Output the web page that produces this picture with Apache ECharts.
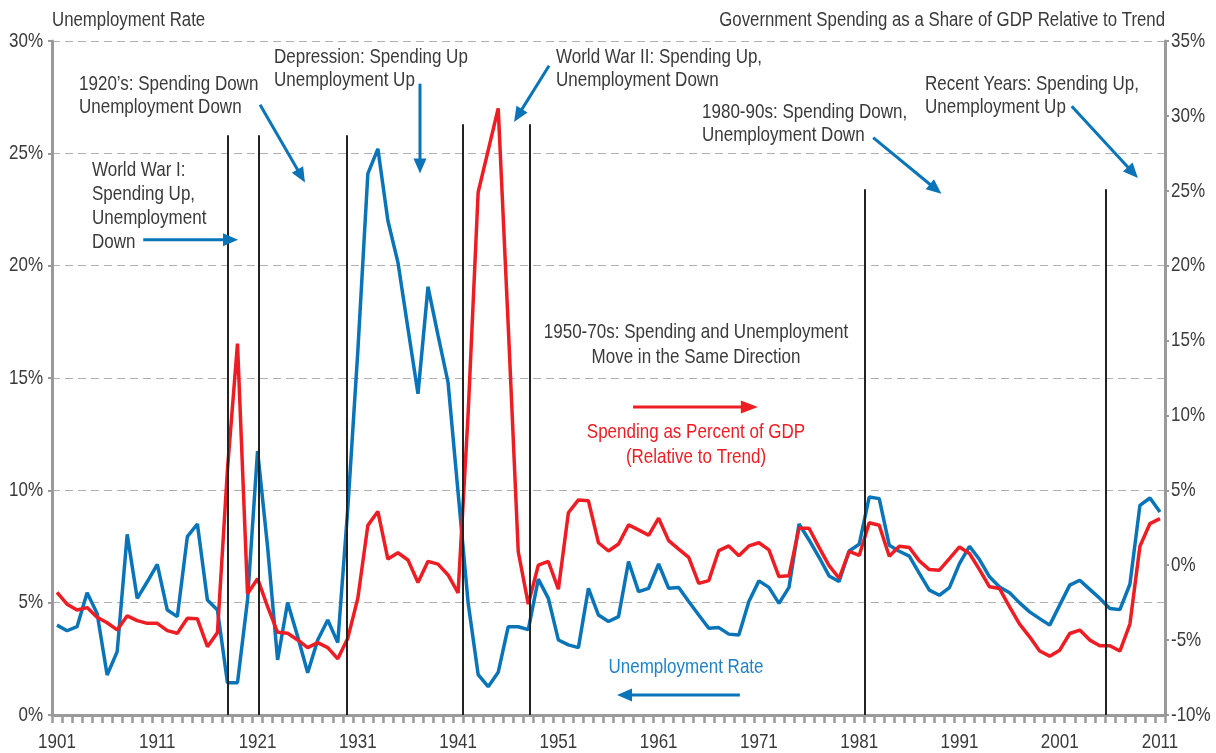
<!DOCTYPE html>
<html>
<head>
<meta charset="utf-8">
<script src="https://cdn.jsdelivr.net/npm/echarts@6/dist/echarts.min.js"></script>
<style>
html,body{margin:0;padding:0;background:#fff;}
#c{width:1216px;height:753px;}
</style>
</head>
<body>
<div id="c"></div>
<script>
// ---- Data ----
var years = [];
for (var y = 1901; y <= 2011; y++) years.push(String(y));
var xTickLabels = ['1901', '1911', '1921', '1931', '1941', '1951', '1961', '1971', '1981', '1991', '2001', '2011'];
var leftTickValues = [0, 5, 10, 15, 20, 25, 30];
var rightTickValues = [-10, -5, 0, 5, 10, 15, 20, 25, 30, 35];

var unemployment = [
 4.0, 3.75, 3.93, 5.44, 4.52, 1.78, 2.82, 8.04, 5.19, 5.93,
 6.7, 4.67, 4.38, 7.94, 8.5, 5.12, 4.67, 1.44, 1.44, 5.12,
 11.75, 7.49, 2.45, 5.01, 3.49, 1.88, 3.34, 4.23, 3.22, 9.2,
 16.2, 24.1, 25.2, 22.0, 20.15, 17.2, 14.3, 19.06, 16.9, 14.8,
 9.9, 5.0, 1.8, 1.26, 1.9, 3.93, 3.93, 3.8, 6.05, 5.19,
 3.34, 3.12, 3.0, 5.64, 4.45, 4.16, 4.38, 6.83, 5.49, 5.64,
 6.72, 5.64, 5.68, 5.05, 4.45, 3.86, 3.89, 3.6, 3.56, 5.05,
 5.97, 5.68, 4.97, 5.68, 8.5, 7.79, 7.02, 6.19, 5.94, 7.3,
 7.6, 9.7, 9.63, 7.56, 7.29, 7.07, 6.3, 5.56, 5.33, 5.67,
 6.74, 7.51, 6.92, 6.15, 5.7, 5.44, 4.99, 4.59, 4.29, 4.0,
 4.89, 5.78, 6.0, 5.59, 5.19, 4.74, 4.69, 5.82, 9.33, 9.66,
 9.04
];

var spending = [
 -1.81, -2.6, -2.99, -2.83, -3.47, -3.84, -4.32, -3.38, -3.7, -3.88,
 -3.88, -4.37, -4.54, -3.54, -3.58, -5.44, -4.5, 6.4, 14.8, -1.9,
 -0.9, -2.77, -4.48, -4.54, -4.99, -5.5, -5.17, -5.5, -6.25, -4.87,
 -2.2, 2.66, 3.59, 0.41, 0.83, 0.35, -1.15, 0.26, 0.07, -0.65,
 -1.85, 10.1, 24.9, 27.7, 30.5, 16.0, 0.9, -2.6, 0.0, 0.25,
 -1.6, 3.5, 4.36, 4.3, 1.5, 0.95, 1.42, 2.69, 2.36, 2.0,
 3.14, 1.64, 1.07, 0.53, -1.21, -1.03, 0.98, 1.29, 0.64, 1.29,
 1.5, 1.02, -0.76, -0.7, 2.47, 2.47, 1.19, -0.03, -0.87, 0.92,
 0.65, 2.84, 2.67, 0.6, 1.27, 1.18, 0.29, -0.29, -0.33, 0.44,
 1.22, 0.78, -0.29, -1.44, -1.56, -2.78, -3.93, -4.78, -5.73, -6.07,
 -5.67, -4.56, -4.33, -5.0, -5.38, -5.38, -5.73, -3.93, 1.27, 2.78,
 3.11
];

// vertical divider lines: year position and top value (left axis)
var dividerYears = [1918.05, 1921.15, 1929.9, 1941.42, 1948.17, 1981.53, 2005.57];
var dividerTops  = [25.8, 25.8, 25.8, 26.3, 26.3, 23.4, 23.4];

// annotation arrows (year, left-axis value): start -> tip
var blueArrowStarts = [[1909.6, 21.15], [1921.25, 27.16], [1937.2, 28.1], [1950.07, 28.9], [1982.4, 25.7], [2002.2, 27.1], [1969.1, 0.89]];
var blueArrowEnds   = [[1919.05, 21.15], [1925.73, 23.7], [1937.2, 24.1], [1946.58, 26.4], [1989.2, 23.2], [2008.8, 23.9], [1956.85, 0.89]];
var redArrowStart = [1958.45, 13.71];
var redArrowEnd   = [1970.9, 13.71];

// ---- Styles ----
var FONT = '"Liberation Sans", Arial, sans-serif';
var BLUE = '#0a74b8';
var RED = '#ee1d24';
var TXT = '#3a3a3a';
var AX = '#9a9a9a';

var dividerData = dividerYears.map(function (yr, i) {
  return [{ coord: [yr, 0] }, { coord: [yr, dividerTops[i]] }];
});

var chart = echarts.init(document.getElementById('c'), null, { renderer: 'canvas' });

function txt(text, x, y, opts) {
  opts = opts || {};
  return {
    type: 'text',
    x: x, y: y,
    scaleX: opts.sx || 0.81,
    z: 100,
    style: {
      text: text,
      font: (opts.size || 21) + 'px ' + FONT,
      fill: opts.color || TXT,
      textAlign: opts.align || 'left',
      align: opts.align || 'left',
      textVerticalAlign: opts.valign || 'top',
      verticalAlign: opts.valign || 'top',
      lineHeight: opts.lh || 23
    }
  };
}

var option = {
  animation: false,
  backgroundColor: '#fff',
  grid: { left: 52, right: 51, top: 41, bottom: 38, containLabel: false, outerBoundsMode: 'none' },
  xAxis: [
    {
      type: 'category',
      data: years,
      boundaryGap: true,
      axisLine: { lineStyle: { color: AX, width: 3 } },
      axisTick: { show: true, interval: 0, length: 8, lineStyle: { color: AX, width: 2.5 } },
      axisLabel: { show: false },
      splitLine: { show: false }
    },
    {
      type: 'value',
      min: 1900.5, max: 2011.5,
      show: false,
      splitLine: { show: false }
    }
  ],
  yAxis: [
    {
      type: 'value',
      min: 0, max: 30, interval: 5,
      position: 'left',
      axisLine: { show: true, lineStyle: { color: AX, width: 3 } },
      axisTick: { show: true, length: 4, lineStyle: { color: AX, width: 2 } },
      axisLabel: { show: false },
      splitLine: { show: true, lineStyle: { color: '#b0b0b0', type: [8, 5], width: 1 } }
    },
    {
      type: 'value',
      min: -10, max: 35, interval: 5,
      position: 'right',
      axisLine: { show: true, lineStyle: { color: AX, width: 3 } },
      axisTick: { show: true, length: 4, lineStyle: { color: AX, width: 2 } },
      axisLabel: { show: false },
      splitLine: { show: false }
    }
  ],
  series: [
    {
      name: 'dividers',
      type: 'line',
      xAxisIndex: 1, yAxisIndex: 0,
      data: [],
      z: 1,
      markLine: {
        silent: true,
        symbol: ['none', 'none'],
        label: { show: false },
        lineStyle: { color: '#222', width: 2, type: 'solid' },
        data: dividerData
      }
    },
    {
      name: 'Unemployment Rate',
      type: 'line',
      xAxisIndex: 0, yAxisIndex: 0,
      data: unemployment,
      showSymbol: false,
      symbol: 'none',
      lineStyle: { color: BLUE, width: 3.5 },
      z: 3
    },
    {
      name: 'Spending',
      type: 'line',
      xAxisIndex: 0, yAxisIndex: 1,
      data: spending,
      showSymbol: false,
      symbol: 'none',
      lineStyle: { color: RED, width: 3.5 },
      z: 4
    }
  ]
};
chart.setOption(option);

// arrows placed through the chart's own scales
function arrowGraphics(start, end, color, headLen, headW) {
  var p0 = chart.convertToPixel({ xAxisIndex: 1, yAxisIndex: 0 }, start);
  var p1 = chart.convertToPixel({ xAxisIndex: 1, yAxisIndex: 0 }, end);
  var dx = p1[0] - p0[0], dy = p1[1] - p0[1];
  var len = Math.sqrt(dx * dx + dy * dy);
  var ux = dx / len, uy = dy / len;
  var bx = p1[0] - ux * headLen, by = p1[1] - uy * headLen;
  var px = -uy * headW / 2, py = ux * headW / 2;
  return [
    { type: 'line', z: 90, shape: { x1: p0[0], y1: p0[1], x2: bx + ux * 2, y2: by + uy * 2 },
      style: { stroke: color, lineWidth: 3 } },
    { type: 'polygon', z: 90, shape: { points: [[p1[0], p1[1]], [bx + px, by + py], [bx - px, by - py]] },
      style: { fill: color } }
  ];
}

var graphics = [
  txt('Unemployment Rate', 52, 9, { size: 20, sx: 0.84 }),
  txt('Government Spending as a Share of GDP Relative to Trend', 1165, 9, { size: 20, sx: 0.84, align: 'right' }),
  txt("1920\u2019s: Spending Down\nUnemployment Down", 79, 73),
  txt('Depression: Spending Up\nUnemployment Up', 274, 46),
  txt('World War I:\nSpending Up,\nUnemployment\nDown', 92, 158, { lh: 24 }),
  txt('World War II: Spending Up,\nUnemployment Down', 556, 46),
  txt('1980-90s: Spending Down,\nUnemployment Down', 702, 101),
  txt('Recent Years: Spending Up,\nUnemployment Up', 925, 73),
  txt('1950-70s: Spending and Unemployment\nMove in the Same Direction', 696, 320, { align: 'center', lh: 25 }),
  txt('Spending as Percent of GDP\n(Relative to Trend)', 696, 420, { align: 'center', color: RED, lh: 25 }),
  txt('Unemployment Rate', 686, 656, { align: 'center', color: '#1f82c6' })
];

// axis tick labels positioned through the axes
var leftX = chart.convertToPixel({ xAxisIndex: 1 }, 1900.5);
var rightX = chart.convertToPixel({ xAxisIndex: 1 }, 2011.5);
var bottomY = chart.convertToPixel({ yAxisIndex: 0 }, 0);
xTickLabels.forEach(function (lab) {
  var px = chart.convertToPixel({ xAxisIndex: 0 }, lab);
  graphics.push(txt(lab, px, bottomY + 27, { align: 'center', valign: 'middle' }));
});
leftTickValues.forEach(function (v) {
  var py = chart.convertToPixel({ yAxisIndex: 0 }, v);
  graphics.push(txt(v + '%', leftX - 9, py, { align: 'right', valign: 'middle' }));
});
rightTickValues.forEach(function (v) {
  var py = chart.convertToPixel({ yAxisIndex: 1 }, v);
  graphics.push(txt(v + '%', rightX + 6, py, { align: 'left', valign: 'middle' }));
});

for (var i = 0; i < blueArrowStarts.length; i++) {
  graphics = graphics.concat(arrowGraphics(blueArrowStarts[i], blueArrowEnds[i], BLUE, 15, 13));
}
graphics = graphics.concat(arrowGraphics(redArrowStart, redArrowEnd, RED, 17, 13));

chart.setOption({ graphic: graphics });
</script>
</body>
</html>
